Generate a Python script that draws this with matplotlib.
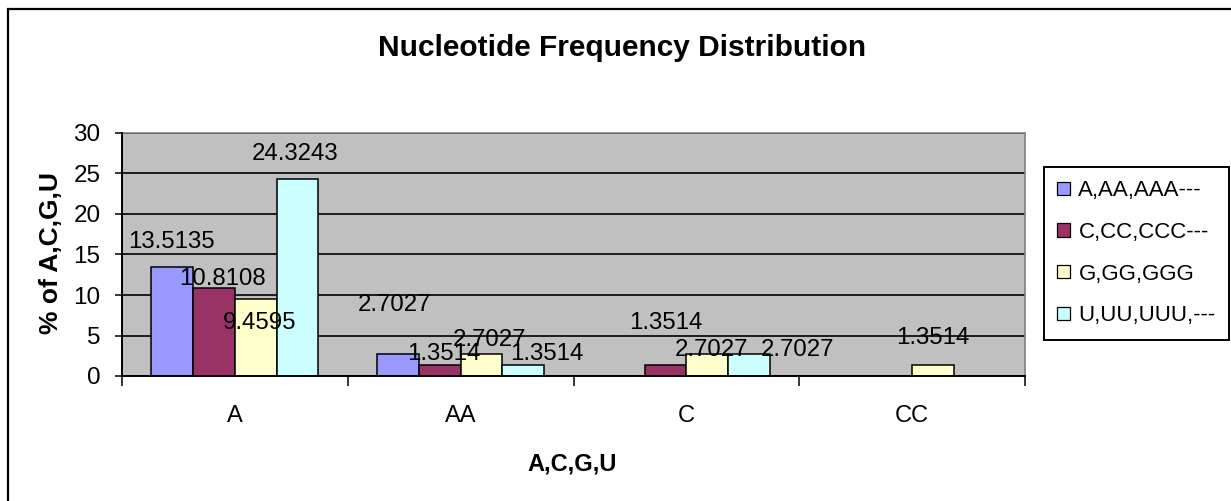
import matplotlib
matplotlib.use('Agg')
import matplotlib.pyplot as plt
from matplotlib.patches import Rectangle, Patch
import numpy as np

# ---------------- data ----------------
categories = ['A', 'AA', 'C', 'CC']
series_names = ['A,AA,AAA---', 'C,CC,CCC---', 'G,GG,GGG', 'U,UU,UUU,---']
vals_A = [13.5135, 2.7027, 0, 0]
vals_C = [10.8108, 1.3514, 1.3514, 0]
vals_G = [9.4595, 2.7027, 2.7027, 1.3514]
vals_U = [24.3243, 1.3514, 2.7027, 0]
y_ticks = [0, 5, 10, 15, 20, 25, 30]

title = 'Nucleotide Frequency Distribution'
x_label = 'A,C,G,U'
y_label = '% of A,C,G,U'

# ---------------- style ----------------
colors = ['#9999FF', '#993366', '#FFFFCC', '#CCFFFF']
# data label offsets (pixels, dx right, dy down) of text centre from bar top centre
label_offsets = [
    [(-1, -27), (-3, -52), None, None],
    [(8, -12), (4.5, -13.5), (0, -44), None],
    [(3.5, 21), (8, -17), (4.5, -7), (0, -29)],
    [(-2, -27), (24, -13.5), (48, -7), None],
]

plt.rcParams['font.family'] = ['Liberation Sans', 'DejaVu Sans']

W, H, DPI = 1231, 501, 100
fig = plt.figure(figsize=(W / DPI, H / DPI), dpi=DPI)
fig.patch.set_facecolor('white')

left, right, top, bottom = 122, 1025, 133, 376
ax = fig.add_axes([left / W, 1 - bottom / H, (right - left) / W, (bottom - top) / H])
ax.set_facecolor('#C0C0C0')

series = [vals_A, vals_C, vals_G, vals_U]
n = len(series)
x = np.arange(len(categories))
bw = 0.185
px2pt = 72 / DPI
for i, vals in enumerate(series):
    xs = x + (i - (n - 1) / 2) * bw
    ax.bar(xs, vals, width=bw, color=colors[i], edgecolor='black', linewidth=1.1,
           zorder=3, label=series_names[i])
    for j, v in enumerate(vals):
        off = label_offsets[i][j]
        if v == 0 or off is None:
            continue
        dx, dy = off
        ax.annotate(f'{v:g}', xy=(xs[j], v), xytext=(dx * px2pt, -(dy + 8.4) * px2pt),
                    textcoords='offset points', ha='center', va='baseline',
                    fontsize=17.3, color='black', zorder=5)

ax.set_xlim(-0.5, len(categories) - 0.5)
ax.set_ylim(0, 30)
ax.set_yticks(y_ticks)
ax.yaxis.grid(True, color='black', linewidth=1.2, zorder=1)
ax.set_axisbelow(True)

ax.set_xticks(x)
ax.set_xticklabels(categories)
ax.set_xticks(np.arange(len(categories) + 1) - 0.5, minor=True)
ax.tick_params(axis='x', which='major', length=0, pad=21, labelsize=17)
ax.tick_params(axis='x', which='minor', length=7, width=1.1, direction='out', color='black')
ax.tick_params(axis='y', length=5, width=1.1, direction='out', pad=10.5, labelsize=17.5)

for s in ['left', 'bottom']:
    ax.spines[s].set_color('black')
    ax.spines[s].set_linewidth(1.4)
    ax.spines[s].set_zorder(4)
for s in ['top', 'right']:
    ax.spines[s].set_color('#808080')
    ax.spines[s].set_linewidth(1.2)

fig.text(622 / W, 1 - 48 / H, title, ha='center', va='center', fontsize=21.5, fontweight='bold')
fig.text(572.5 / W, 1 - 464 / H, x_label, ha='center', va='center', fontsize=17, fontweight='bold')
fig.text(51 / W, 1 - 253 / H, y_label, ha='center', va='center', rotation=90, fontsize=19, fontweight='bold')

handles = [Patch(facecolor=c, edgecolor='black', linewidth=0.9) for c in colors]
leg = fig.legend(handles, series_names, loc='upper left',
                 bbox_to_anchor=(1044 / W, 1 - 167 / H), bbox_transform=fig.transFigure,
                 borderaxespad=0, fontsize=16, frameon=True, fancybox=False,
                 edgecolor='black', framealpha=1, handlelength=0.55, handleheight=0.55,
                 handletextpad=0.4, labelspacing=0.93, borderpad=0.6)
leg.get_frame().set_linewidth(1.4)

fig.patches.append(Rectangle((8 / W, -0.05), 1.1, 1 - 9 / H + 0.05, transform=fig.transFigure,
                             fill=False, edgecolor='black', linewidth=1.6))

fig.savefig('out.png', dpi=DPI)
